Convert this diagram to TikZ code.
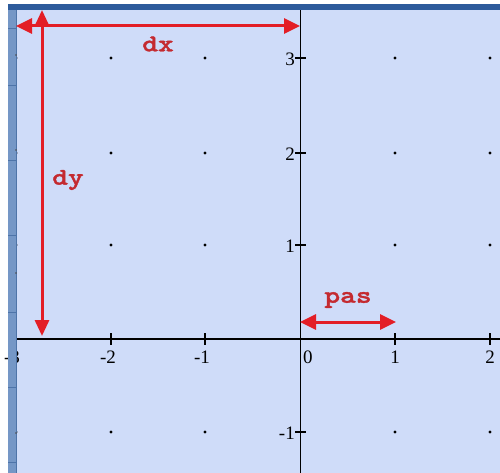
\documentclass[tikz,border=0pt]{standalone}
\usepackage{fontspec}
\setmainfont{Liberation Serif}
\newfontfamily\labfont{lmmonolt10-bold}[Extension=.otf, FakeStretch=1.25, FakeBold=1.5]
\usetikzlibrary{arrows.meta}
\definecolor{bgblue}{HTML}{CFDCF9}
\definecolor{barblue}{HTML}{7597C6}
\definecolor{bardark}{HTML}{4E74A8}
\definecolor{topblue}{HTML}{2D5B9B}
\definecolor{arrred}{HTML}{E31E26}
\definecolor{txtred}{HTML}{C42A30}
\tikzset{
  redarrow/.style={draw=arrred, line width=3pt, {Triangle[length=16pt,width=15pt]}-{Triangle[length=16pt,width=15pt]}},
  downarrow/.style={draw=arrred, line width=3pt, {Triangle[length=16pt,width=14pt]}-{Triangle[length=16pt,width=14pt]}},
  redlabel/.style={text=txtred, font=\labfont\fontsize{24}{24}\selectfont, inner sep=0pt},
  ticklabel/.style={font=\fontsize{19}{19}\selectfont, inner sep=0pt},
  gdot/.style={fill=black, draw=none},
  axisline/.style={draw=black, line width=1.4pt},
  tickmark/.style={draw=black, line width=1.2pt},
}
\begin{document}
\begin{tikzpicture}[x=1pt,y=-1pt]
\useasboundingbox (0,0) rectangle (500,473);
\fill[white] (0,0) rectangle (500,473);
\fill[bgblue] (8,4) rectangle (500,473);
% grid dots
\foreach \gx in {16,111,205,395,490}
  \foreach \gy in {58,153,245,432}
    \fill[gdot] (\gx,\gy) circle (1.6);
% axes
\coordinate (xl) at (16,339);
\coordinate (xr) at (500,339);
\coordinate (yt) at (300.5,10);
\coordinate (yb) at (300.5,473);
\draw[axisline] (xl) -- (xr);
\draw[axisline] (yt) -- (yb);
% ticks
\foreach \tx in {111,205,395,490}
  \draw[tickmark] (\tx,333) -- (\tx,345);
\foreach \ty in {58,153,245,432}
  \draw[tickmark] (295,\ty) -- (306,\ty);
% tick labels
\node[ticklabel] (lxm3) at (12,357) {-3};
\node[ticklabel] (lxm2) at (108,357) {-2};
\node[ticklabel] (lxm1) at (202,357) {-1};
\node[ticklabel, anchor=west] (lx0) at (303,357) {0};
\node[ticklabel] (lx1) at (395,357) {1};
\node[ticklabel] (lx2) at (490,357) {2};
\node[ticklabel, anchor=east] (ly3) at (295,59) {3};
\node[ticklabel, anchor=east] (ly2) at (295,154) {2};
\node[ticklabel, anchor=east] (ly1) at (295,246) {1};
\node[ticklabel, anchor=east] (lym1) at (295,433) {-1};
% window frame
\fill[barblue] (8,10) rectangle (16,473);
\draw[bardark, line width=0.8pt] (16,10) -- (16,473);
\foreach \ry in {28,85,160,235,312,387,462}
  \draw[bardark, line width=0.8pt] (8,\ry) -- (16,\ry);
\foreach \ry in {55,150,273,433}
  \fill[black!70] (16,\ry) circle (0.9);
\fill[topblue] (8,4) rectangle (500,10);
% red arrows
\coordinate (dxl) at (16,26);
\coordinate (dxr) at (300,26);
\coordinate (dyt) at (42,10);
\coordinate (dyb) at (42,336);
\coordinate (pl) at (300,322);
\coordinate (pr) at (396,322);
\draw[redarrow] (dxl) -- (dxr);
\draw[downarrow] (dyt) -- (dyb);
\draw[redarrow] (pl) -- (pr);
\node[redlabel] (dx) at (158,44) {dx};
\node[redlabel] (dy) at (68,180) {dy};
\node[redlabel] (pas) at (348,300) {pas};
\end{tikzpicture}
\end{document}
